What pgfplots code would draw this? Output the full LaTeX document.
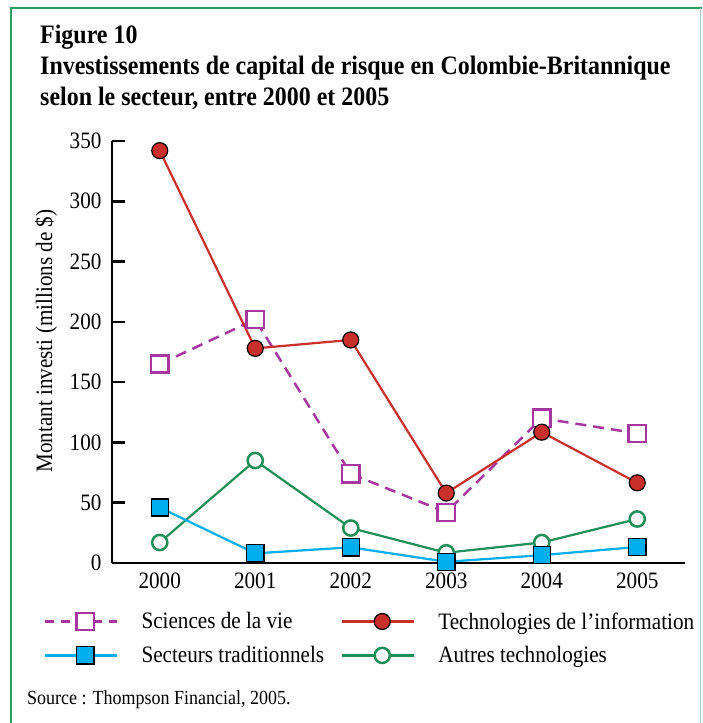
\documentclass[border=0pt]{standalone}
\usepackage{fontspec}
\setmainfont{Liberation Serif}[FakeStretch=0.9]
\usepackage{pgfplots}
\pgfplotsset{compat=1.18}
\definecolor{cRed}{HTML}{C9302C}
\definecolor{cPur}{HTML}{A6379F}
\definecolor{cBlue}{HTML}{00AEEF}
\definecolor{cGreen}{HTML}{1F8F57}
\definecolor{frameG}{HTML}{2E9B5F}
\definecolor{frameR}{HTML}{A9CDBE}
\begin{document}
\begin{tikzpicture}[x=1pt,y=1pt]
\useasboundingbox (0,0) rectangle (702,723);
\draw[frameG, line width=2.2pt] (11,0) -- (11,715) -- (702,715);
\draw[frameR, line width=1pt] (700.5,715) -- (700.5,0);
\node[anchor=base west, font=\bfseries\fontsize{26.6}{30}\selectfont, inner sep=0pt] at (40,679) {Figure 10};
\node[anchor=base west, font=\bfseries\fontsize{26.6}{30}\selectfont, inner sep=0pt] at (40,648) {Investissements de capital de risque en Colombie-Britannique};
\node[anchor=base west, font=\bfseries\fontsize{26.6}{30}\selectfont, inner sep=0pt] at (40,617) {selon le secteur, entre 2000 et 2005};
\node[anchor=base west, font=\fontsize{20}{24}\selectfont, inner sep=0pt] at (27,19) {Source : Thompson Financial, 2005.};
\begin{axis}[
  at={(112pt,160pt)}, anchor=south west, scale only axis,
  width=573pt, height=422pt,
  xmin=1999.5, xmax=2005.5, ymin=0, ymax=350,
  axis x line*=bottom, axis y line*=left,
  axis line style={line width=2.5pt, -},
  xtick={2000,2001,2002,2003,2004,2005},
  ytick={0,50,100,150,200,250,300,350},
  major x tick style={draw=none},
  major y tick style={line width=2.5pt, black},
  tick align=inside, major tick length=13pt,
  /pgf/number format/.cd, 1000 sep={}, assume math mode=true,
  /pgfplots/.cd,
  ticklabel style={font=\fontsize{23.5}{26}\selectfont},
  yticklabel style={xshift=-7pt},
  xticklabel style={yshift=-6pt},
  ylabel={Montant investi (millions de \$)},
  ylabel style={at={(axis description cs:-0.115,0.526)}, anchor=center, font=\fontsize{23.5}{26}\selectfont},
  clip=false,
  legend columns=2,
  legend cell align=left,
  legend style={at={(axis description cs:-0.119,-0.112)}, anchor=north west, draw=none, fill=none, inner sep=0pt, font=\fontsize{23.5}{26}\selectfont, row sep=12pt,
    /tikz/every odd column/.style={column sep=21pt},
    /tikz/every even column/.style={column sep=15pt}},
  legend image code/.code={\draw[mark repeat=2, mark phase=2] plot coordinates {(0pt,0pt) (40pt,0pt) (72pt,0pt)};},
]
\addplot[cPur, line width=2.5pt, dash pattern=on 11pt off 7pt, mark=square*, mark size=8.6pt, mark options={solid, fill=white, draw=cPur, line width=2.5pt}, forget plot]
  coordinates {(2000,165)(2001,202)(2002,74)(2003,42)(2004,120)(2005,107.5)};
\addplot[cGreen, line width=2.2pt, mark=*, mark size=7.6pt, mark options={fill=white, draw=cGreen, line width=2.5pt}, forget plot]
  coordinates {(2000,17)(2001,85)(2002,29)(2003,8.5)(2004,17)(2005,36.5)};
\addplot[cBlue, line width=2.2pt, mark=square*, mark size=8.6pt, mark options={fill=cBlue, draw=black, line width=1.3pt}, forget plot]
  coordinates {(2000,46)(2001,8)(2002,13)(2003,1)(2004,6.5)(2005,13.3)};
\addplot[cRed, line width=2.2pt, mark=*, mark size=8pt, mark options={fill=cRed, draw=black, line width=1.2pt}, forget plot]
  coordinates {(2000,342)(2001,178)(2002,185)(2003,58)(2004,108.5)(2005,66.5)};
\addlegendimage{cPur, line width=2.5pt, dash pattern=on 9pt off 7pt, mark=square*, mark size=8.6pt, mark options={solid, fill=white, draw=cPur, line width=2.5pt}}
\addlegendentry{Sciences de la vie}
\addlegendimage{cRed, line width=2.2pt, mark=*, mark size=8pt, mark options={fill=cRed, draw=black, line width=1.2pt}}
\addlegendentry{Technologies de l’information}
\addlegendimage{cBlue, line width=2.2pt, mark=square*, mark size=8.6pt, mark options={fill=cBlue, draw=black, line width=1.3pt}}
\addlegendentry{Secteurs traditionnels}
\addlegendimage{cGreen, line width=2.2pt, mark=*, mark size=7.6pt, mark options={fill=white, draw=cGreen, line width=2.5pt}}
\addlegendentry{Autres technologies}
\end{axis}
\end{tikzpicture}
\end{document}
